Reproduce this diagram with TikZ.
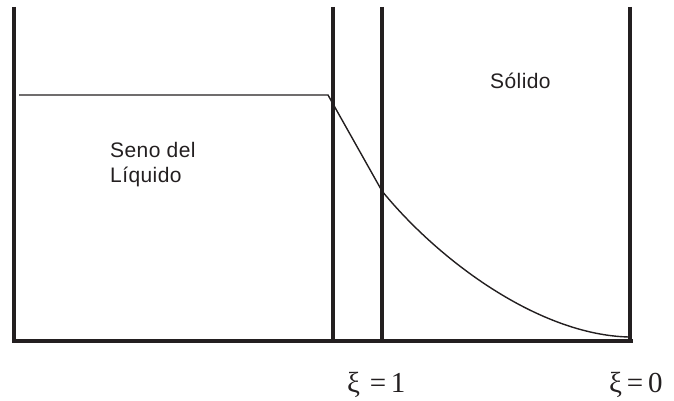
\documentclass[tikz,border=0pt]{standalone}
\usepackage{fontspec}
\setmainfont{Liberation Serif}
\newfontfamily\arialfont[LetterSpace=2]{Liberation Sans}
\usetikzlibrary{positioning}

\definecolor{ink}{RGB}{35,31,32}

\begin{document}
\begin{tikzpicture}[x=1pt,y=-1pt,
    wall/.style={draw=ink,line width=4pt},
    profile/.style={draw=ink,line width=1.4pt},
    region/.style={font=\arialfont\fontsize{21}{25}\selectfont,text=ink,
      align=left,inner sep=0pt},
    xilabel/.style={font=\fontsize{29}{32}\selectfont,text=ink,inner sep=0pt,
      anchor=base west}
  ]
    \useasboundingbox (0,0) rectangle (674,401);

    % walls and base line
    \draw[wall] (14,7) -- (14,340.5) -- (633,340.5);
    \draw[wall] (332.5,7) -- (332.5,340.5);
    \draw[wall] (381.5,7) -- (381.5,340.5);
    \draw[wall] (630,7) -- (630,340.5);

    % concentration profile
    \coordinate (bulk) at (19,95);
    \coordinate (film) at (328,95);
    \coordinate (surf) at (382,191);
    \coordinate (core) at (629,337);
    \draw[profile] (bulk) -- (film) -- (surf)
      .. controls (440,262) and (540,335) .. (core);

    % labels
    \node[region,anchor=north west] (liq) at (110,142)
      {Seno del\\[0pt]Líquido};
    \node[region,anchor=north west] (sol) at (490,73) {Sólido};
    \node[xilabel] (xi1) at (347,392) {ξ\,\,=\,1};
    \node[xilabel] (xi0) at (609,392) {ξ\,=\,0};
\end{tikzpicture}
\end{document}
